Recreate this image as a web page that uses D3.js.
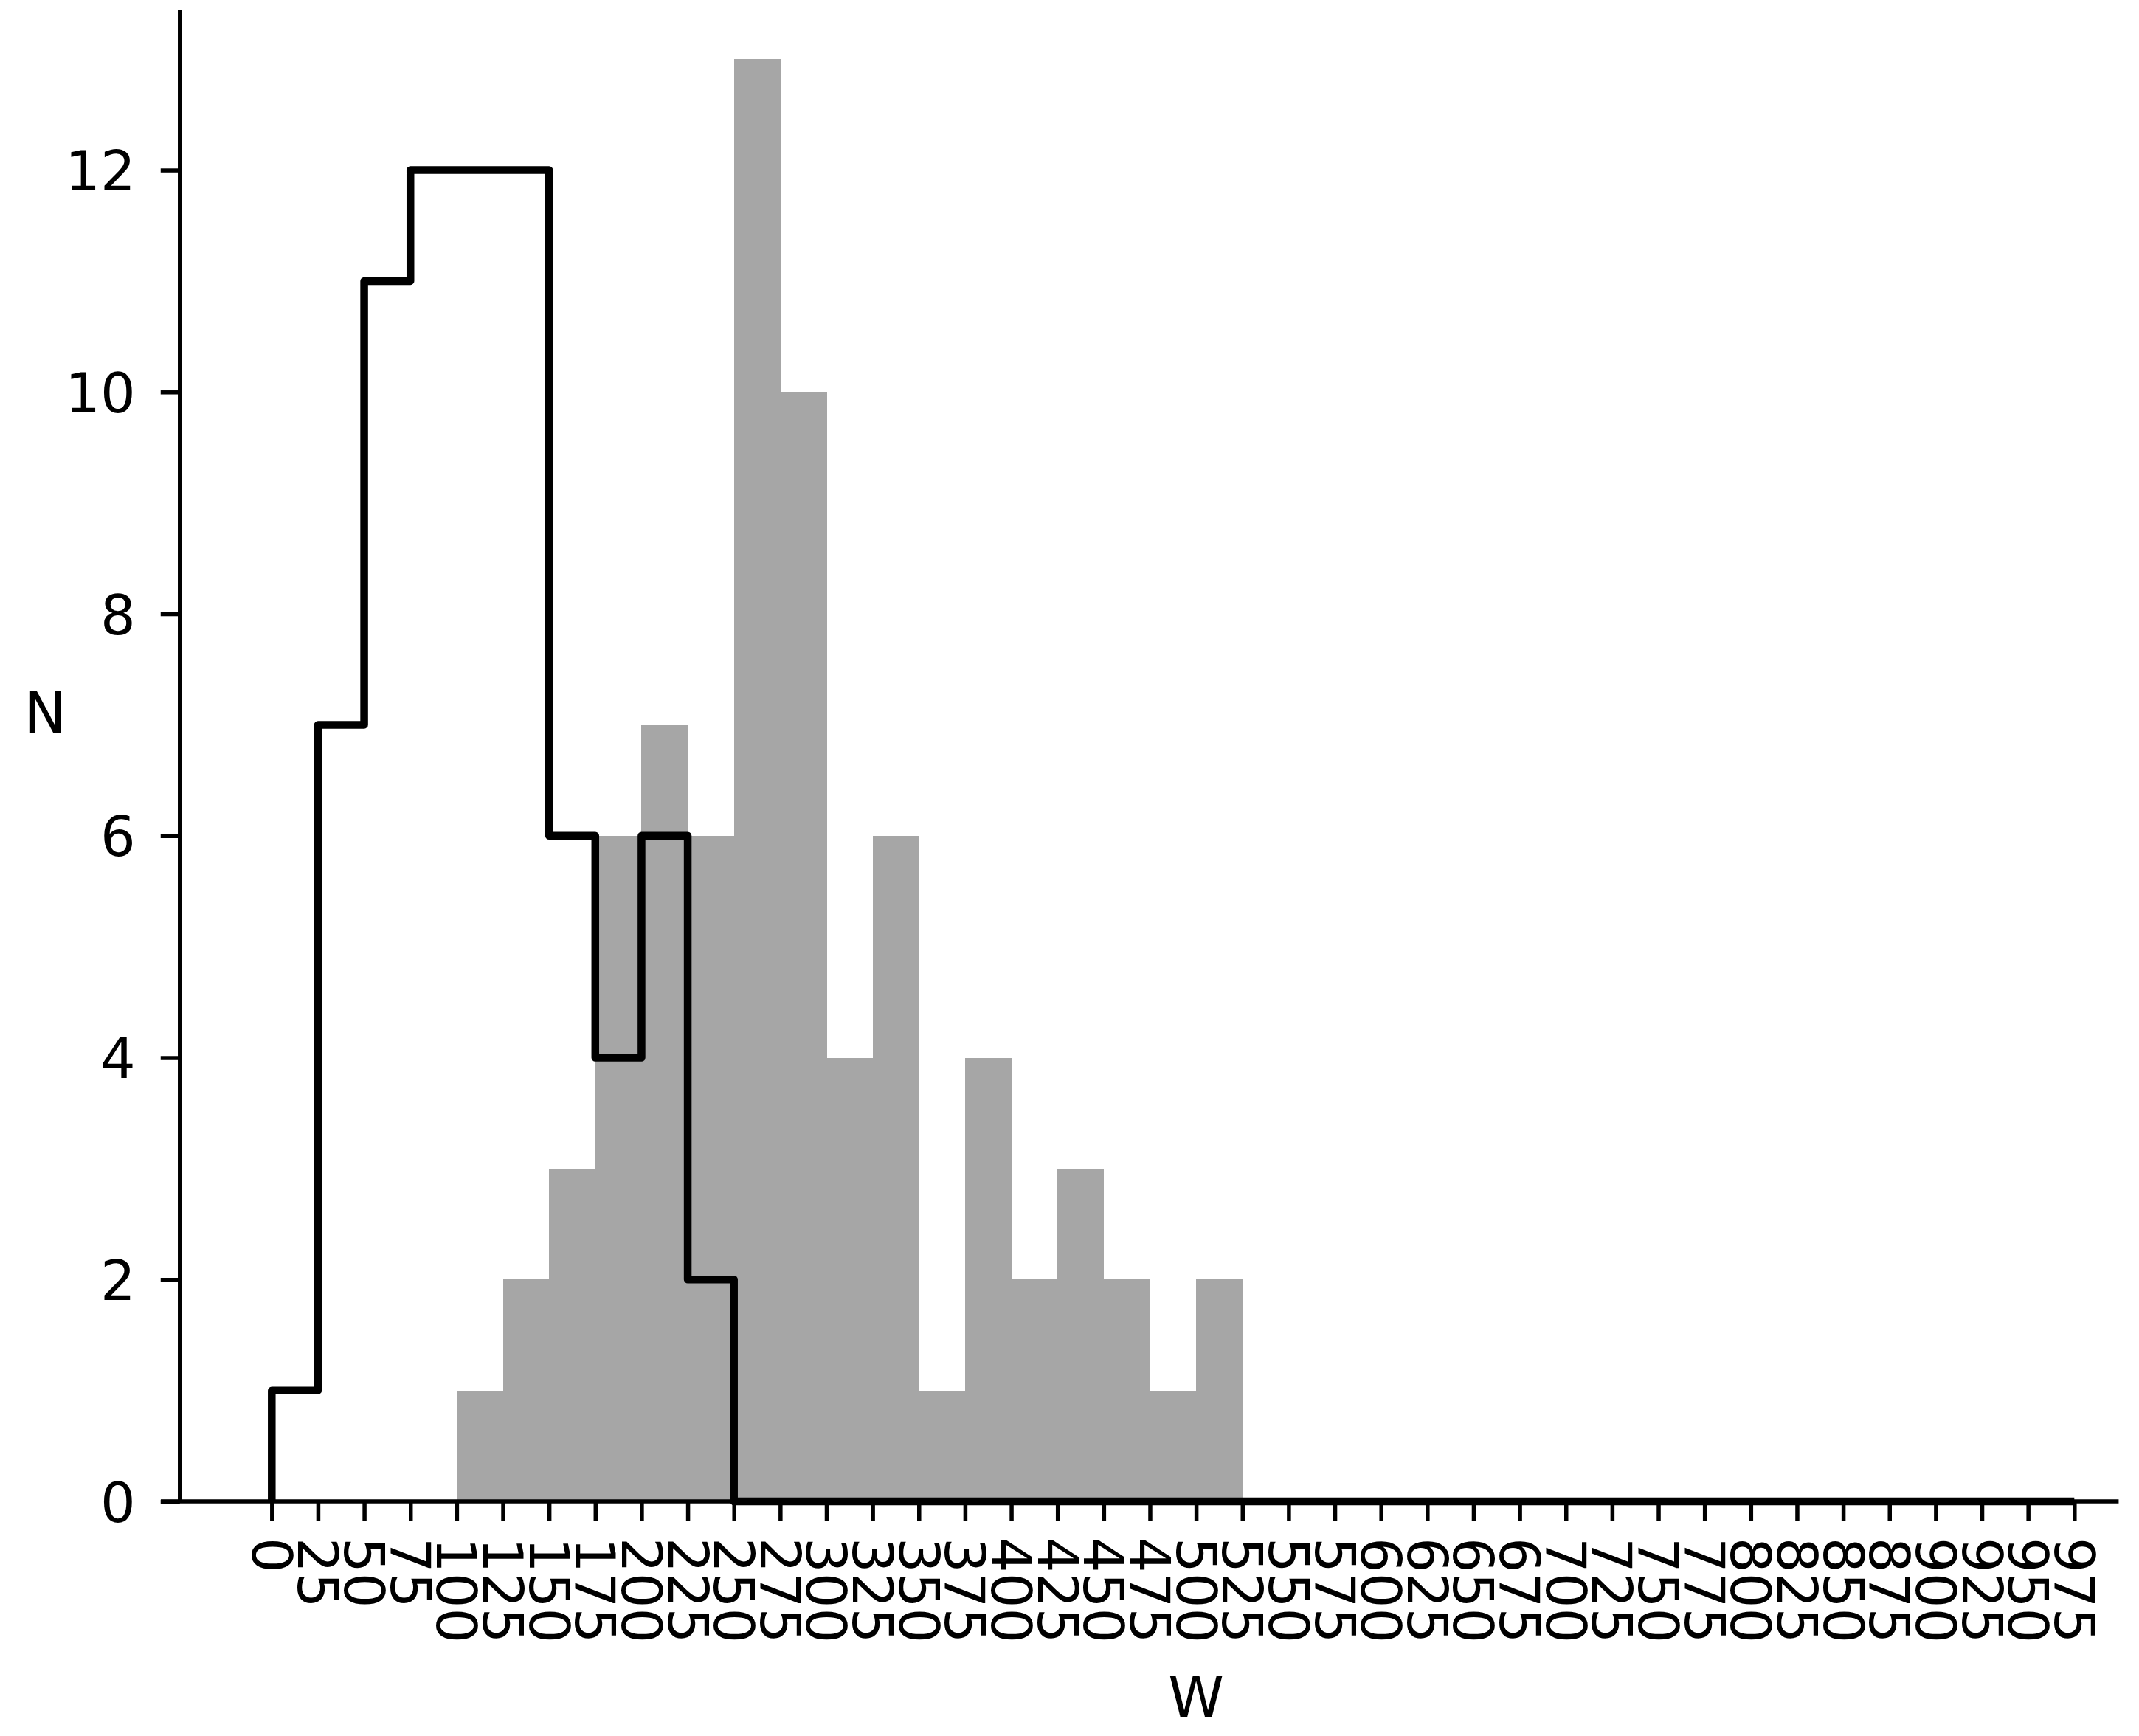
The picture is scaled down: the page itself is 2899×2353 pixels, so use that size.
<!DOCTYPE html>
<html>
<head>
<meta charset="utf-8">
<script src="https://cdn.jsdelivr.net/npm/d3@7"></script>
<style>
  html, body { margin: 0; padding: 0; background: #ffffff; }
  svg { display: block; }
  text { font-family: "DejaVu Sans", sans-serif; fill: #000; }
</style>
</head>
<body>
<script>
// ---- data ----
const binEdges = [0, 25, 50, 75, 100, 125, 150, 175, 200, 225, 250, 275, 300, 325, 350, 375,
  400, 425, 450, 475, 500, 525, 550, 575, 600, 625, 650, 675, 700, 725, 750, 775,
  800, 825, 850, 875, 900, 925, 950, 975];
// gray filled histogram (counts per 25-wide bin)
const grayCounts = [0, 0, 0, 0, 1, 2, 3, 6, 7, 6, 13, 10, 4, 6, 1, 4, 2, 3, 2, 1, 2,
  0, 0, 0, 0, 0, 0, 0, 0, 0, 0, 0, 0, 0, 0, 0, 0, 0, 0];
// black step histogram
const stepCounts = [1, 7, 11, 12, 12, 12, 6, 4, 6, 2, 0,
  0, 0, 0, 0, 0, 0, 0, 0, 0, 0, 0, 0, 0, 0, 0, 0, 0, 0, 0, 0, 0, 0, 0, 0, 0, 0, 0, 0];
const xTickValues = binEdges;
const yTickValues = [0, 2, 4, 6, 8, 10, 12];
const xLabel = "W";
const yLabel = "N";

// ---- layout ----
const W = 2899, H = 2353;
const svg = d3.select("body").append("svg").attr("width", W).attr("height", H);
svg.append("rect").attr("width", W).attr("height", H).attr("fill", "#fff");

const x = d3.scaleLinear().domain([0, 975]).range([368.3, 2811.3]);
const y = d3.scaleLinear().domain([0, 13.44]).range([2035, 14]);

const FS = 75;

// gray bars
const bins = grayCounts.map((c, i) => ({x0: binEdges[i], x1: binEdges[i + 1], c}));
svg.append("g").attr("shape-rendering", "crispEdges").selectAll("rect")
  .data(bins.filter(d => d.c > 0))
  .join("rect")
  .attr("x", d => x(d.x0))
  .attr("width", d => x(d.x1) - x(d.x0) + 0.6)
  .attr("y", d => y(d.c))
  .attr("height", d => y(0) - y(d.c))
  .attr("fill", "#a6a6a6");

// spines
const spineW = 5.5;
svg.append("line")
  .attr("x1", x(-60)).attr("x2", x(999))
  .attr("y1", y(0)).attr("y2", y(0))
  .attr("stroke", "#000").attr("stroke-width", spineW);
svg.append("line")
  .attr("x1", x(-49.7)).attr("x2", x(-49.7))
  .attr("y1", y(0)).attr("y2", y(13.44))
  .attr("stroke", "#000").attr("stroke-width", spineW);

// step line (edges 0..975 give 39 bins)
const stepPts = [[binEdges[0], 0]];
for (let i = 0; i < binEdges.length - 1; i++) {
  stepPts.push([binEdges[i], stepCounts[i]]);
  stepPts.push([binEdges[i + 1], stepCounts[i]]);
}
stepPts.push([binEdges[binEdges.length - 1], 0]);
svg.append("path")
  .attr("d", d3.line().x(d => x(d[0])).y(d => y(d[1]))(stepPts))
  .attr("fill", "none")
  .attr("stroke", "#000")
  .attr("stroke-width", 10.5)
  .attr("stroke-linejoin", "round");

// y axis
const yAxis = d3.axisLeft(y).tickValues(yTickValues).tickSize(26).tickPadding(34).tickFormat(d3.format("d"));
const gy = svg.append("g").attr("transform", `translate(${x(-49.7)},0)`).call(yAxis);
gy.select(".domain").remove();
gy.selectAll(".tick line").attr("stroke", "#000").attr("stroke-width", spineW);
gy.selectAll(".tick text").attr("font-size", FS).attr("font-family", "DejaVu Sans").attr("dy", "0.36em");

// x axis
const xAxis = d3.axisBottom(x).tickValues(xTickValues).tickSize(26).tickFormat(d3.format("d"));
const gx = svg.append("g").attr("transform", `translate(0,${y(0)})`).call(xAxis);
gx.select(".domain").remove();
gx.selectAll(".tick line").attr("stroke", "#000").attr("stroke-width", spineW);
gx.selectAll(".tick text")
  .attr("font-size", FS)
  .attr("font-family", "DejaVu Sans")
  .attr("text-anchor", "start")
  .attr("x", 0).attr("y", 0)
  .attr("dy", "0.36em")
  .attr("transform", "translate(0,49) rotate(90)");

// axis labels
svg.append("text").attr("x", x(500)).attr("y", 2327)
  .attr("text-anchor", "middle").attr("font-size", 77).text(xLabel);
svg.append("text").attr("x", 61).attr("y", y(6.93))
  .attr("text-anchor", "middle").attr("font-size", 77).text(yLabel);
</script>
</body>
</html>
